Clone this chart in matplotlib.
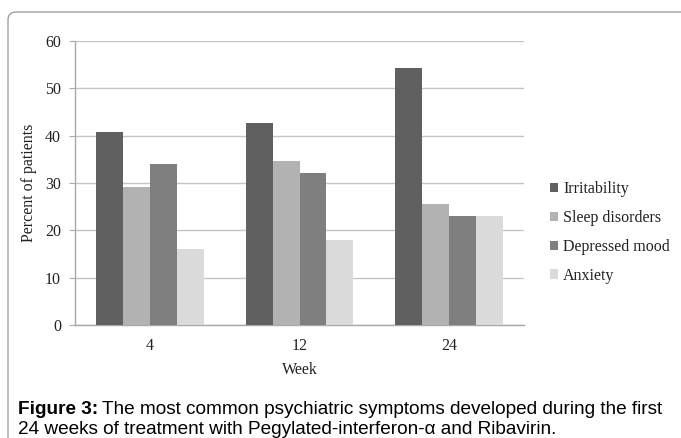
import numpy as np
import matplotlib.pyplot as plt
from matplotlib.patches import FancyBboxPatch

# Datos
semanas = ['4', '12', '24']
sintomas = ['Irritability', 'Sleep disorders', 'Depressed mood', 'Anxiety']
irritabilidad = [40.7, 42.7, 54.3]
sueno = [29.2, 34.6, 25.6]
animo = [34.0, 32.1, 23.0]
ansiedad = [16.1, 18.0, 23.0]
series = [irritabilidad, sueno, animo, ansiedad]
colores = ['#606060', '#b2b2b2', '#7f7f7f', '#dadada']

serif = ['Liberation Serif', 'DejaVu Serif']
sans = ['Liberation Sans', 'DejaVu Sans']
fs = 11.5

fig = plt.figure(figsize=(6.81, 4.38), dpi=100)
ax = fig.add_axes([75/681, 113/438, 449/681, 284/438])

x = np.arange(len(semanas))
width = 0.18
for i, (vals, c, lab) in enumerate(zip(series, colores, sintomas)):
    ax.bar(x + (i - 1.5) * width, vals, width, color=c, label=lab, zorder=3)

ax.set_xlim(-0.5, 2.5)
ax.set_ylim(0, 60)
ax.set_yticks(range(0, 61, 10))
ax.set_xticks(x)
ax.set_xticklabels(semanas, fontfamily=serif, fontsize=fs)
for t in ax.get_yticklabels():
    t.set_fontfamily(serif)
    t.set_fontsize(fs)
ax.grid(True, axis='y', color='#c4c4c4', linewidth=1, zorder=0)
for s in ['top', 'right']:
    ax.spines[s].set_visible(False)
for s in ['left', 'bottom']:
    ax.spines[s].set_color('#a8a8a8')
    ax.spines[s].set_linewidth(1)
ax.tick_params(axis='y', length=4, color='#a8a8a8', pad=6, labelcolor='#222222')
ax.tick_params(axis='x', length=0, pad=9, labelcolor='#222222')
ax.set_xlabel('Week', fontfamily=serif, fontsize=fs, labelpad=6, color='#222222')
ax.set_ylabel('Percent of patients', fontfamily=serif, fontsize=fs, labelpad=6, color='#222222')

leg = fig.legend(loc='upper left', bbox_to_anchor=(536/681, 1 - 167/438), frameon=False,
                 prop={'family': serif, 'size': fs}, handlelength=0.5, handleheight=0.5,
                 handletextpad=0.3, labelspacing=0.8)
for t in leg.get_texts():
    t.set_color('#222222')

# Marco
marco = FancyBboxPatch((8/100, -0.5), 7.5, 4.26 + 0.5, boxstyle='round,pad=0,rounding_size=0.08',
                       transform=fig.dpi_scale_trans, facecolor='none', edgecolor='#a0a0a0',
                       linewidth=1, clip_on=False)
fig.patches.append(marco)

# Pie de figura
cfs = 13.7
negrita = fig.text(18/681, 1 - 409/438, 'Figure 3:', fontfamily=sans, fontsize=cfs,
                   fontweight='bold', va='center', ha='left')
fig.canvas.draw()
bb = negrita.get_window_extent()
fig.text((bb.x1 + 4) / 681, 1 - 409/438,
         'The most common psychiatric symptoms developed during the first',
         fontfamily=sans, fontsize=cfs, va='center', ha='left')
fig.text(18/681, 1 - 429/438, '24 weeks of treatment with Pegylated-interferon-\u03b1 and Ribavirin.',
         fontfamily=sans, fontsize=cfs, va='center', ha='left')

plt.savefig('out.png', dpi=100)
